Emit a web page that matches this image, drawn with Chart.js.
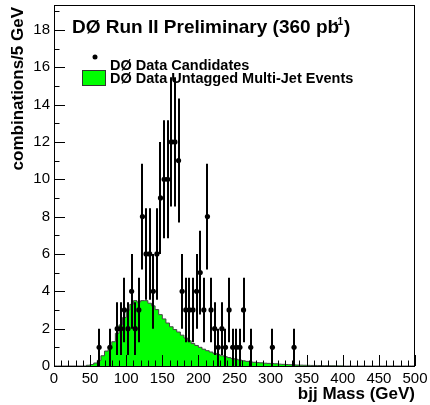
<!DOCTYPE html>
<html>
<head>
<meta charset="utf-8">
<script src="https://cdn.jsdelivr.net/npm/chart.js@4/dist/chart.umd.min.js"></script>
<style>
  body { margin: 0; background: #fff; }
  #wrap { width: 430px; height: 405px; }
</style>
</head>
<body>
<div id="wrap"><canvas id="massChart"></canvas></div>
<script>
const ctx = document.getElementById('massChart');

//Prepare data
// data candidates: bin centre (GeV), entries per 5 GeV bin, error bar half length
var dataMass = [62.5, 77.5, 87.5, 92.5, 97.5, 102.5, 107.5, 112.5, 117.5, 122.5,
    127.5, 132.5, 137.5, 142.5, 147.5, 152.5, 157.5, 162.5, 167.5, 172.5,
    177.5, 182.5, 187.5, 192.5, 197.5, 202.5, 207.5, 212.5, 217.5, 222.5,
    227.5, 232.5, 237.5, 242.5, 247.5, 252.5, 257.5, 262.5, 272.5, 302.5, 332.5];
var dataCounts = [1, 1, 2, 2, 3, 2, 4, 2, 3, 8,
    6, 6, 4, 6, 9, 10, 10, 12, 12, 11,
    4, 3, 3, 3, 4, 5, 3, 8, 3, 2,
    1, 2, 1, 3, 1, 1, 1, 3, 1, 1, 1];
var dataErrors = [1, 1, 1.41, 1.41, 1.73, 1.41, 2, 1.41, 1.73, 2.83,
    2.45, 2.45, 2, 2.45, 3, 3.16, 3.16, 3.46, 3.46, 3.32,
    2, 1.73, 1.73, 1.73, 2, 2.24, 1.73, 2.83, 1.73, 1.41,
    1, 1.41, 1, 1.73, 1, 1, 1, 1.73, 1, 1, 1];

// untagged multi-jet histogram, 100 bins of 5 GeV from 0 to 500
var binWidth = 5;
var bkgValues = [0, 0, 0, 0, 0, 0, 0, 0, 0, 0.04,
    0.08, 0.16, 0.3, 0.55, 0.8, 1.05, 1.3, 1.75, 2.2, 2.6,
    3.0, 3.3, 3.5, 3.42, 3.5, 3.5, 3.36, 3.22, 3.02, 2.75,
    2.52, 2.3, 2.1, 1.95, 1.82, 1.65, 1.5, 1.35, 1.2, 1.1,
    1.0, 0.9, 0.82, 0.75, 0.68, 0.62, 0.55, 0.5, 0.45, 0.4,
    0.36, 0.32, 0.28, 0.25, 0.22, 0.2, 0.18, 0.17, 0.15, 0.14,
    0.13, 0.12, 0.1, 0.09, 0.08, 0.07, 0.06, 0.05, 0.045, 0.04,
    0.035, 0.03, 0.03, 0.025, 0.02, 0.02, 0.015, 0.015, 0.01, 0.01,
    0, 0, 0, 0, 0, 0, 0, 0, 0, 0,
    0, 0, 0, 0, 0, 0, 0, 0, 0, 0];

var xTicks = [0, 50, 100, 150, 200, 250, 300, 350, 400, 450, 500];
var yTicks = [0, 2, 4, 6, 8, 10, 12, 14, 16, 18];

var fontFamily = '"Liberation Sans", Arial, Helvetica, sans-serif';
var green = '#00ff00';

// step outline: one point at each bin's low edge, plus the upper edge
var bkgPoints = bkgValues.map(function (v, i) { return {x: i * binWidth, y: v}; });
bkgPoints.push({x: bkgValues.length * binWidth, y: bkgValues[bkgValues.length - 1]});

var candPoints = dataMass.map(function (m, i) { return {x: m, y: dataCounts[i]}; });

//Frame, inward ROOT style ticks, error bars, legend and titles
const rootStyle = {
    id: 'rootStyle',
    afterDatasetsDraw(chart) {
        const c = chart.ctx;
        const a = chart.chartArea;
        const xs = chart.scales.x;
        const ys = chart.scales.y;

        // error bars
        c.save();
        c.beginPath();
        c.rect(a.left, a.top, a.right - a.left, a.bottom - a.top);
        c.clip();
        c.strokeStyle = '#000';
        c.lineWidth = 2;
        dataMass.forEach(function (m, i) {
            const px = Math.round(xs.getPixelForValue(m));
            c.beginPath();
            c.moveTo(px, ys.getPixelForValue(dataCounts[i] - dataErrors[i]));
            c.lineTo(px, ys.getPixelForValue(dataCounts[i] + dataErrors[i]));
            c.stroke();
        });
        c.restore();

        // frame
        c.save();
        c.strokeStyle = '#000';
        c.lineWidth = 1;
        c.strokeRect(a.left + 0.5, a.top + 0.5, a.right - a.left - 1, a.bottom - a.top);

        // x ticks, every 10 GeV, long ones every 50
        c.beginPath();
        for (let v = 0; v <= 500; v += 10) {
            const px = Math.round(xs.getPixelForValue(v)) + 0.5;
            const len = (v % 50 === 0) ? 11 : 5.5;
            c.moveTo(px, a.bottom);
            c.lineTo(px, a.bottom - len);
        }
        // y ticks, every 1, long ones every 2
        for (let v = 0; v <= 19; v += 1) {
            const py = Math.round(ys.getPixelForValue(v)) + 0.5;
            const len = (v % 2 === 0) ? 11 : 5.5;
            c.moveTo(a.left, py);
            c.lineTo(a.left + len, py);
        }
        c.stroke();

        // title
        c.fillStyle = '#000';
        c.textBaseline = 'alphabetic';
        c.textAlign = 'left';
        c.font = 'bold 19px ' + fontFamily;
        const t1 = 'D\u00d8 Run II Preliminary (360 pb';
        c.fillText(t1, 72, 33);
        let tx = 72 + c.measureText(t1).width;
        c.font = 'bold 10px ' + fontFamily;
        c.fillText('-1', tx - 5, 25);
        tx += c.measureText('-1').width - 4;
        c.font = 'bold 19px ' + fontFamily;
        c.fillText(')', tx, 33);

        // legend
        c.beginPath();
        c.arc(95, 57, 2.5, 0, Math.PI * 2);
        c.fill();
        c.font = 'bold 14.5px ' + fontFamily;
        c.fillText('D\u00d8 Data Candidates', 110, 70);
        c.fillStyle = green;
        c.fillRect(82, 70, 24, 16);
        c.strokeStyle = '#333';
        c.strokeRect(82.5, 70.5, 23, 15);
        c.fillStyle = '#000';
        c.fillText('D\u00d8 Data Untagged Multi-Jet Events', 110, 83);

        // axis titles
        c.font = 'bold 17px ' + fontFamily;
        c.textAlign = 'right';
        c.fillText('bjj Mass (GeV)', a.right, 399);
        c.translate(18, 7);
        c.rotate(-Math.PI / 2);
        c.textBaseline = 'middle';
        c.fillText('combinations/5 GeV', 0, 0);
        c.restore();
    }
};

//Create chart
new Chart(ctx, {
    data: {
        datasets: [
            {
                type: 'scatter',
                label: 'D\u00d8 Data Candidates',
                data: candPoints,
                pointRadius: 2.6,
                pointBackgroundColor: '#000',
                pointBorderWidth: 0,
                showLine: false
            },
            {
                type: 'line',
                label: 'D\u00d8 Data Untagged Multi-Jet Events',
                data: bkgPoints,
                stepped: true,
                fill: 'origin',
                backgroundColor: green,
                borderColor: '#444',
                borderWidth: 1,
                pointRadius: 0
            }
        ]
    },
    options: {
        responsive: true,
        maintainAspectRatio: false,
        animation: false,
        layout: { padding: { left: 0, top: 5, right: 15, bottom: 0 } },
        plugins: {
            legend: { display: false },
            tooltip: { enabled: false }
        },
        scales: {
            x: {
                type: 'linear',
                min: 0,
                max: 500,
                afterFit: function (s) {
                    s.height = 39;
                    s.paddingLeft = 0;
                    s.paddingRight = 0;
                },
                afterBuildTicks: function (s) { s.ticks = xTicks.map(function (v) { return {value: v}; }); },
                grid: { display: false, drawTicks: false },
                border: { display: false },
                ticks: {
                    maxRotation: 0,
                    autoSkip: false,
                    padding: 4,
                    color: '#000',
                    font: { family: fontFamily, size: 15 }
                }
            },
            y: {
                type: 'linear',
                min: 0,
                max: 19.33,
                afterFit: function (s) {
                    s.width = 54;
                    s.paddingTop = 0;
                    s.paddingBottom = 0;
                },
                afterBuildTicks: function (s) { s.ticks = yTicks.map(function (v) { return {value: v}; }); },
                grid: { display: false, drawTicks: false },
                border: { display: false },
                ticks: {
                    padding: 4,
                    color: '#000',
                    font: { family: fontFamily, size: 15 }
                }
            }
        }
    },
    plugins: [rootStyle]
});
</script>
</body>
</html>
